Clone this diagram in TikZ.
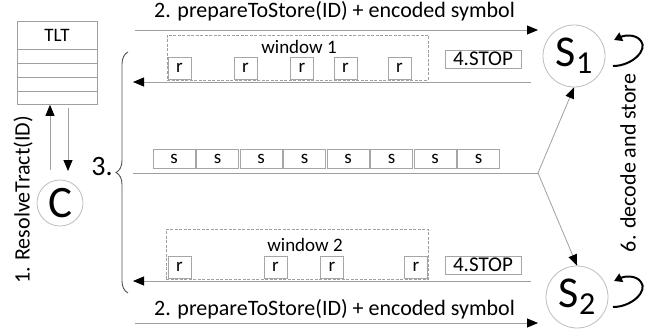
\documentclass[tikz,border=0pt]{standalone}
\usepackage{fontspec}
\setmainfont{Carlito}
\usetikzlibrary{arrows.meta,decorations.pathreplacing,calc}
\definecolor{lng}{HTML}{A0A0A0}
\definecolor{bxg}{HTML}{A6A6A6}
\definecolor{crg}{HTML}{BDBDBD}
\definecolor{brg}{HTML}{505050}
\newcommand{\fs}[1]{\fontsize{#1}{#1}\selectfont}
\begin{document}
\begin{tikzpicture}[x=1pt,y=-1pt,
  ln/.style={draw=lng,line width=0.8pt},
  arr/.style={ln,-{Triangle[length=11pt,width=9pt,color=black]}},
  loop/.style={draw=black,line width=2pt,-{Triangle[length=8pt,width=9pt]}},
  rbox/.style={draw=bxg,line width=0.8pt,minimum width=23pt,minimum height=22pt,inner sep=0pt,font=\fs{19}},
  sbox/.style={draw=bxg,line width=0.8pt,minimum width=42pt,minimum height=19pt,inner sep=0pt,font=\fs{19}},
  stopbox/.style={draw=bxg,line width=0.8pt,minimum width=76pt,minimum height=18pt,inner sep=0pt,font=\fs{21}},
  win/.style={draw=lng,line width=0.7pt,dash pattern=on 3pt off 1.5pt,inner sep=0pt},
  srv/.style={circle,draw=crg,line width=0.8pt,minimum size=62pt,inner sep=0pt},
  lbl/.style={font=\fs{22},inner sep=0pt}
]
\useasboundingbox (0,0) rectangle (660,334);

% TLT table
\node[draw=lng,line width=0.8pt,minimum width=80pt,minimum height=83pt,anchor=north west,inner sep=0pt] (tlt) at (17,21) {};
\node[font=\fs{19},inner sep=0pt] (tltlbl) at (57,35) {TLT};
\foreach \yy in {49,63,77,91}
  \draw[ln] (tlt.west |- 0,\yy) -- (tlt.east |- 0,\yy);

% Client
\node[circle,draw=crg,line width=0.8pt,minimum size=46pt,inner sep=0pt,font=\fs{45}] (c) at (60,203) {C};
\coordinate (cu) at (50,170);
\coordinate (cd) at (68,108);
\draw[arr] (cu) -- (cu |- tlt.south);
\draw[arr] (cd) -- (68,171);

\node[lbl,rotate=90] (resolve) at (23,200) {1. ResolveTract(ID)};

% Servers
\node[srv] (s1) at (574,56) {\fs{44}S\raisebox{-7pt}{\fs{32}1}};
\node[srv] (s2) at (577,297) {\fs{44}S\raisebox{-7pt}{\fs{32}2}};

% prepareToStore arrows
\coordinate (p1) at (135,30);
\coordinate (p1e) at (538,30);
\draw[arr] (p1) -- (p1e);
\node[lbl,anchor=base] (p1lbl) at (334.5,18) {2. prepareToStore(ID) + encoded symbol};
\coordinate (p2) at (135,323);
\coordinate (p2e) at (538,323);
\draw[arr] (p2) -- (p2e);
\node[lbl,anchor=base] (p2lbl) at (334.5,315) {2. prepareToStore(ID) + encoded symbol};

% window 1
\node[win,minimum width=261pt,minimum height=45pt] (w1) at (297.5,57.5) {};
\node[font=\fs{19},inner sep=0pt] (w1lbl) at (299,47) {window 1};
\foreach \xx [count=\i] in {179.5,245.5,302,345.5,399.5}
  \node[rbox] (ra\i) at (\xx,68) {r};
\node[stopbox] (stop1) at (483,59) {4.STOP};
\coordinate (a1s) at (531,82);
\coordinate (a1e) at (133,82);
\draw[arr] (a1s) -- (a1e);

% window 2
\node[win,minimum width=262pt,minimum height=50pt] (w2) at (297,254) {};
\node[font=\fs{19},inner sep=0pt] (w2lbl) at (305,245) {window 2};
\foreach \xx [count=\i] in {179.5,275.5,332,416}
  \node[rbox] (rb\i) at (\xx,267) {r};
\node[stopbox] (stop2) at (483,265) {4.STOP};
\coordinate (a2s) at (531,281);
\coordinate (a2e) at (133,281);
\draw[arr] (a2s) -- (a2e);

% symbols row
\foreach \i in {0,...,7}
  \node[sbox] (sb\i) at ({174.2+43.5*\i},158.5) {s};
\coordinate (m0) at (133,173);
\coordinate (br) at (538,173);
\draw[ln] (m0) -- (br);
\draw[arr] (br) -- (s1.south);
\draw[arr] (br) -- (s2.north);

% brace and 3.
\draw[draw=brg,line width=0.9pt,decorate,decoration={brace,amplitude=12pt}] (128,293) -- (128,52);
\node[font=\fs{28},inner sep=0pt] (three) at (102,167) {3.};

% decode and store
\node[lbl,rotate=90] (dec) at (628,163) {6. decode and store};
\begin{scope}[shift={(s1.center)}]
  \draw[loop] (39,10) .. controls (58,10) and (74,-6) .. (67,-15) .. controls (62,-22) and (51,-21) .. (40,-16);
\end{scope}
\begin{scope}[shift={(s2.center)}]
  \draw[loop] (36,10) .. controls (55,10) and (71,-6) .. (64,-15) .. controls (59,-22) and (48,-21) .. (37,-16);
\end{scope}
\end{tikzpicture}
\end{document}
